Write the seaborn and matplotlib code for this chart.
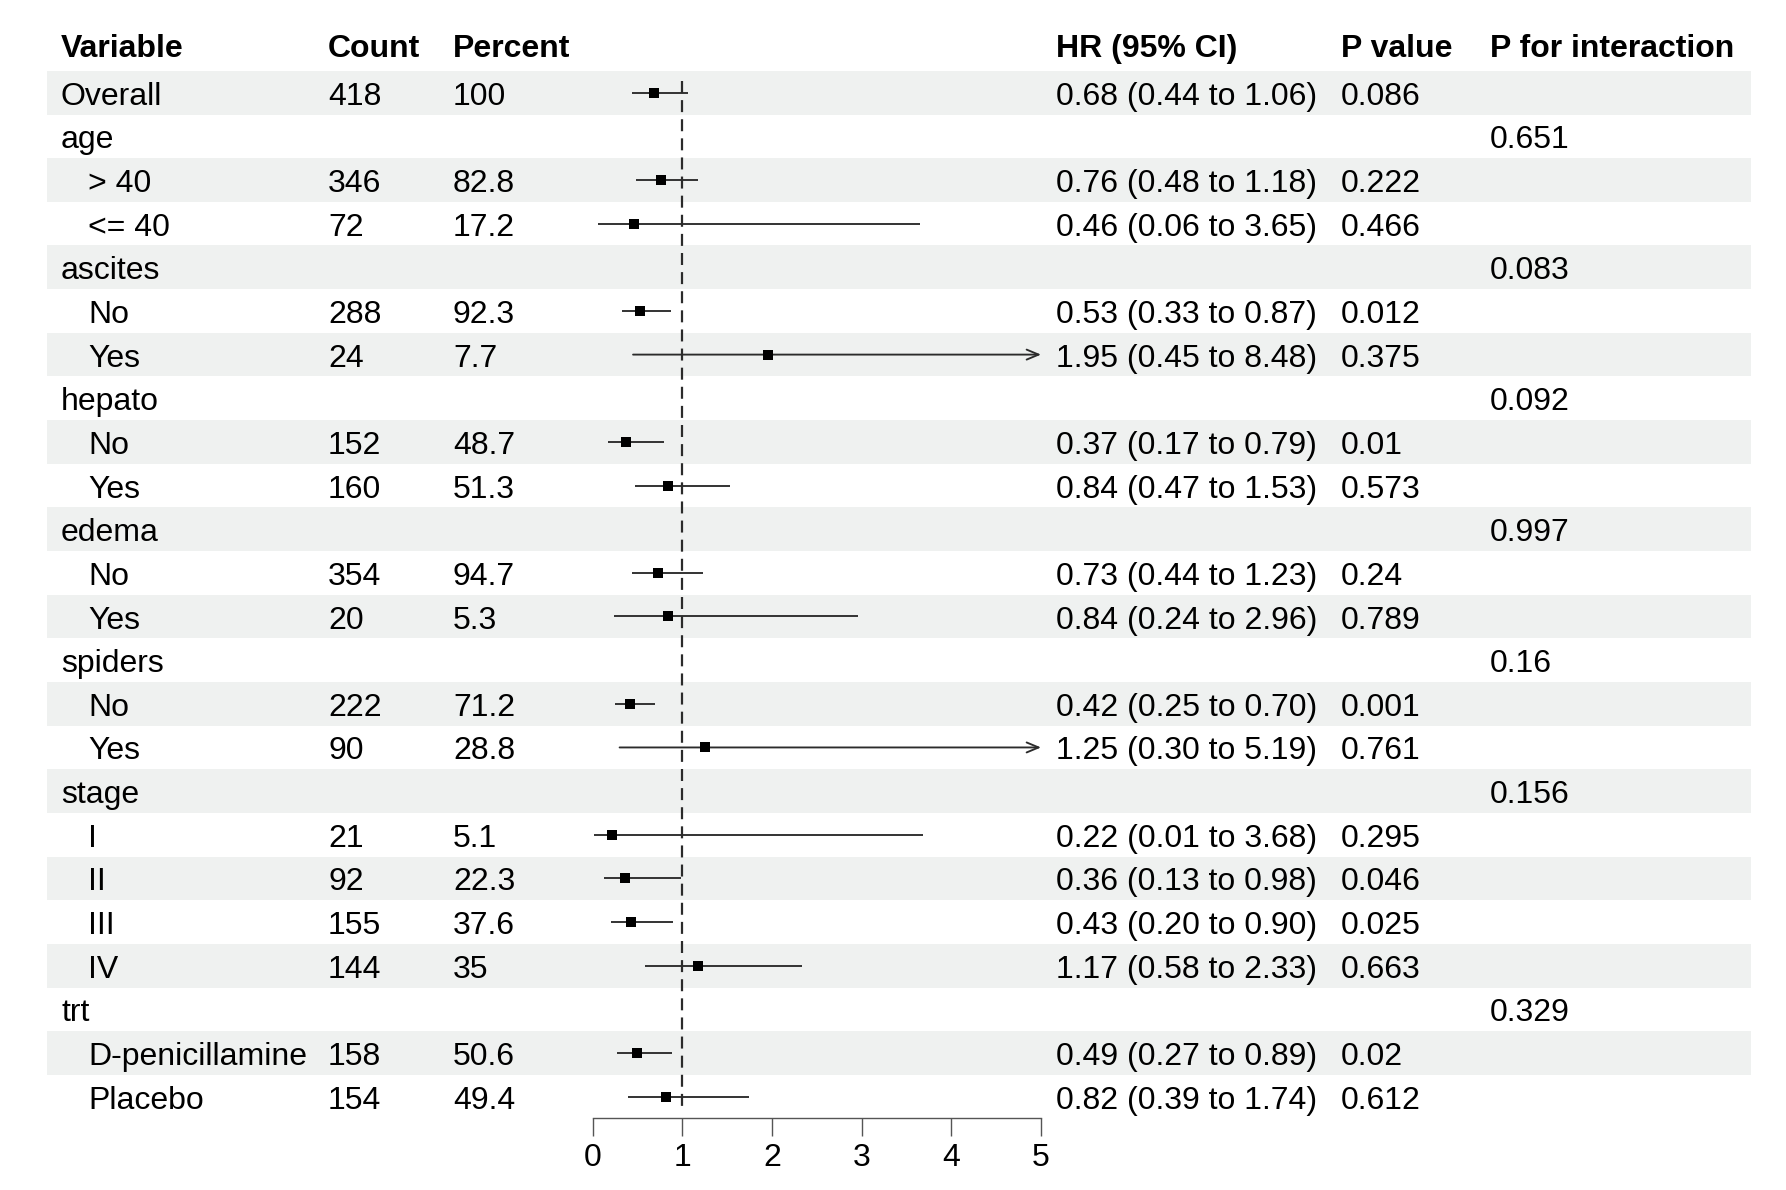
import numpy as np
import pandas as pd
import matplotlib
matplotlib.use("Agg")
import matplotlib.pyplot as plt
import seaborn as sns

# ---------------- data ----------------
variables = ["Overall", "age", "> 40", "<= 40", "ascites", "No", "Yes", "hepato", "No", "Yes",
             "edema", "No", "Yes", "spiders", "No", "Yes", "stage", "I", "II", "III", "IV",
             "trt", "D-penicillamine", "Placebo"]
indented = [False, False, True, True, False, True, True, False, True, True,
            False, True, True, False, True, True, False, True, True, True, True,
            False, True, True]
counts = ["418", "", "346", "72", "", "288", "24", "", "152", "160", "", "354", "20", "",
          "222", "90", "", "21", "92", "155", "144", "", "158", "154"]
percents = ["100", "", "82.8", "17.2", "", "92.3", "7.7", "", "48.7", "51.3", "", "94.7", "5.3", "",
            "71.2", "28.8", "", "5.1", "22.3", "37.6", "35", "", "50.6", "49.4"]
est = [0.68, np.nan, 0.76, 0.46, np.nan, 0.53, 1.95, np.nan, 0.37, 0.84, np.nan, 0.73, 0.84, np.nan,
       0.42, 1.25, np.nan, 0.22, 0.36, 0.43, 1.17, np.nan, 0.49, 0.82]
lower = [0.44, np.nan, 0.48, 0.06, np.nan, 0.33, 0.45, np.nan, 0.17, 0.47, np.nan, 0.44, 0.24, np.nan,
         0.25, 0.30, np.nan, 0.01, 0.13, 0.20, 0.58, np.nan, 0.27, 0.39]
upper = [1.06, np.nan, 1.18, 3.65, np.nan, 0.87, 8.48, np.nan, 0.79, 1.53, np.nan, 1.23, 2.96, np.nan,
         0.70, 5.19, np.nan, 3.68, 0.98, 0.90, 2.33, np.nan, 0.89, 1.74]
pvalues = ["0.086", "", "0.222", "0.466", "", "0.012", "0.375", "", "0.01", "0.573", "", "0.24", "0.789", "",
           "0.001", "0.761", "", "0.295", "0.046", "0.025", "0.663", "", "0.02", "0.612"]
p_interaction = ["", "0.651", "", "", "0.083", "", "", "0.092", "", "", "0.997", "", "", "0.16", "", "",
                 "0.156", "", "", "", "", "0.329", "", ""]
headers = ["Variable", "Count", "Percent", "", "HR (95% CI)", "P value", "P for interaction"]
xticks = [0, 1, 2, 3, 4, 5]

df = pd.DataFrame({"row": np.arange(len(variables)), "est": est, "lower": lower, "upper": upper})

# ---------------- style ----------------
sns.set_theme(style="white")
plt.rcParams["font.family"] = ["Liberation Sans", "DejaVu Sans"]
FS = 23
INK = "#000000"
LINE = "#2b2b2b"
AXIS = "#555555"
BAND = "#eff1f0"

W, H = 1786, 1190
fig = plt.figure(figsize=(W / 100, H / 100), dpi=100)

row0_px = 92.7
row_h = 43.65
ylim = ((H - row0_px) / row_h, -row0_px / row_h)

# background / table axes (x in pixel-like layout units, y in row units)
ax = fig.add_axes([0, 0, 1, 1])
ax.set_xlim(0, W)
ax.set_ylim(*ylim)
ax.axis("off")

for i in range(len(variables)):
    if i % 2 == 0:
        ax.axhspan(i - 0.5, i + 0.5, xmin=46.7 / W, xmax=1750.7 / W, color=BAND, lw=0, zorder=0)

col_x = {"var": 61, "ind": 88, "count": 328, "pct": 453, "hr": 1056, "p": 1341, "pint": 1490}
base_off = 0.275
head_y = -0.818

head_x = [col_x["var"], col_x["count"], col_x["pct"], None, col_x["hr"], col_x["p"], col_x["pint"]]
for h, x in zip(headers, head_x):
    if h and x is not None:
        ax.text(x, head_y, h, fontsize=FS, fontweight="bold", ha="left", va="baseline", color=INK)

for i, name in enumerate(variables):
    y = i + base_off
    ax.text(col_x["ind"] if indented[i] else col_x["var"], y, name, fontsize=FS, ha="left", va="baseline", color=INK)
    ax.text(col_x["count"], y, counts[i], fontsize=FS, ha="left", va="baseline", color=INK)
    ax.text(col_x["pct"], y, percents[i], fontsize=FS, ha="left", va="baseline", color=INK)
    if not np.isnan(est[i]):
        ax.text(col_x["hr"], y, f"{est[i]:.2f} ({lower[i]:.2f} to {upper[i]:.2f})",
                fontsize=FS, ha="left", va="baseline", color=INK)
    ax.text(col_x["p"], y, pvalues[i], fontsize=FS, ha="left", va="baseline", color=INK)
    ax.text(col_x["pint"], y, p_interaction[i], fontsize=FS, ha="left", va="baseline", color=INK)

# ---------------- forest panel ----------------
x0_px, x5_px = 592.7, 1041.0
axf = fig.add_axes([x0_px / W, 0, (x5_px - x0_px) / W, 1])
axf.set_xlim(0, 5)
axf.set_ylim(*ylim)
axf.patch.set_visible(False)
for s in ["left", "right", "top"]:
    axf.spines[s].set_visible(False)
axf.spines["bottom"].set_position(("data", 23.49))
axf.spines["bottom"].set_bounds(0, 5)
axf.spines["bottom"].set_color(AXIS)
axf.spines["bottom"].set_linewidth(1.0)
axf.set_yticks([])
axf.set_xticks(xticks)
axf.set_xticklabels([str(t) for t in xticks])
axf.tick_params(axis="x", direction="out", length=13.2, width=1.0, color=AXIS, pad=5,
                labelsize=FS, labelcolor=INK, bottom=True)

# reference line
axf.plot([1, 1], [-0.26, 23.35], color=LINE, lw=1.6, linestyle=(0, (5.4, 3.2)), zorder=2,
         solid_capstyle="butt", dash_capstyle="butt")

d = df.dropna()
inside = d[d["upper"] <= 5]
clipped = d[d["upper"] > 5]
axf.hlines(inside["row"], inside["lower"], inside["upper"], color=LINE, lw=1.35, zorder=3)
for _, r in clipped.iterrows():
    axf.annotate("", xy=(5, r["row"]), xytext=(r["lower"], r["row"]),
                 xycoords="data", textcoords="data", annotation_clip=False,
                 arrowprops=dict(arrowstyle="->,head_length=0.86,head_width=0.36",
                                 color=LINE, lw=1.35, shrinkA=0, shrinkB=0, mutation_scale=10),
                 zorder=3)

sns.scatterplot(data=d, x="est", y="row", marker="s", s=46, color="black",
                edgecolor="black", linewidth=0, ax=axf, zorder=4, legend=False)
axf.set_xlim(0, 5)
axf.set_ylim(*ylim)
axf.set_xlabel("")
axf.set_ylabel("")
axf.set_yticks([])

fig.savefig("out.png", dpi=100, facecolor="white")
